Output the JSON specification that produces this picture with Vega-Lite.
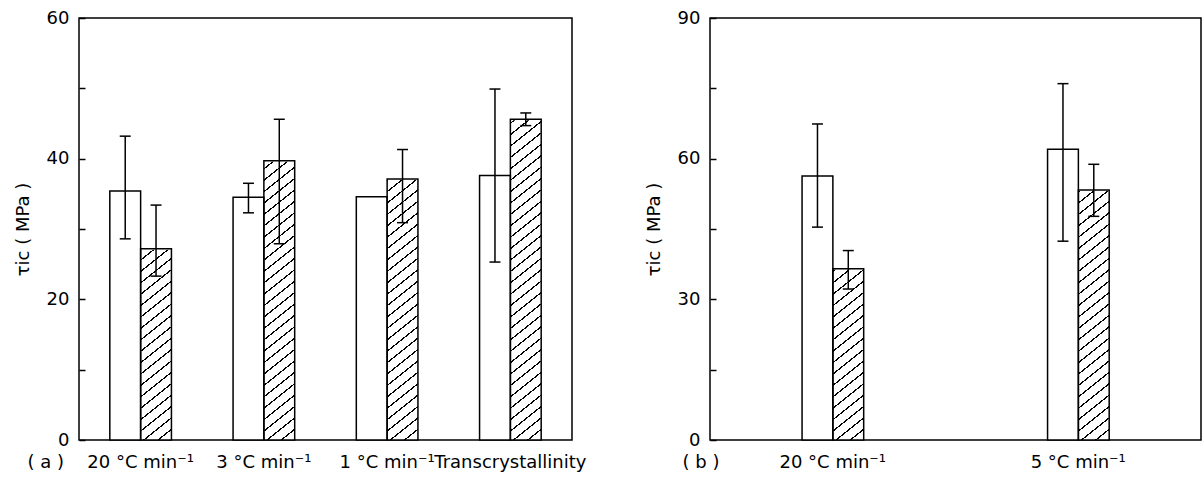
{
  "$schema": "https://vega.github.io/schema/vega-lite/v6.json",
  "background": "white",
  "padding": {"left": 13, "top": 8, "right": 0, "bottom": 0},
  "spacing": 57,
  "datasets": {
    "d": [
      {"panel": "a", "cond": "20 °C min⁻¹", "series": "1", "value": 35.4, "lo": 28.6, "hi": 43.2},
      {"panel": "a", "cond": "20 °C min⁻¹", "series": "2", "value": 27.2, "lo": 23.3, "hi": 33.4},
      {"panel": "a", "cond": "3 °C min⁻¹", "series": "1", "value": 34.5, "lo": 32.3, "hi": 36.5},
      {"panel": "a", "cond": "3 °C min⁻¹", "series": "2", "value": 39.7, "lo": 27.9, "hi": 45.6},
      {"panel": "a", "cond": "1 °C min⁻¹", "series": "1", "value": 34.6},
      {"panel": "a", "cond": "1 °C min⁻¹", "series": "2", "value": 37.1, "lo": 30.9, "hi": 41.3},
      {"panel": "a", "cond": "Transcrystallinity", "series": "1", "value": 37.6, "lo": 25.3, "hi": 49.9},
      {"panel": "a", "cond": "Transcrystallinity", "series": "2", "value": 45.6, "lo": 44.7, "hi": 46.5},
      {"panel": "b", "cond": "20 °C min⁻¹", "series": "1", "value": 56.3, "lo": 45.4, "hi": 67.4},
      {"panel": "b", "cond": "20 °C min⁻¹", "series": "2", "value": 36.5, "lo": 32.2, "hi": 40.4},
      {"panel": "b", "cond": "5 °C min⁻¹", "series": "1", "value": 62.0, "lo": 42.4, "hi": 76.0},
      {"panel": "b", "cond": "5 °C min⁻¹", "series": "2", "value": 53.3, "lo": 47.7, "hi": 58.8}
    ]
  },
  "hconcat": [
    {
      "width": 493,
      "height": 422,
      "data": {"name": "d"},
      "transform": [{"filter": "datum.panel === 'a'"}],
      "encoding": {
        "x": {
          "field": "cond", "type": "nominal",
          "scale": {"domain": ["20 °C min⁻¹", "3 °C min⁻¹", "1 °C min⁻¹", "Transcrystallinity"], "paddingInner": 0.5, "paddingOuter": 0.25},
          "axis": {"title": "( a )", "titleX": -52, "titleY": 13, "titleAlign": "left", "titleBaseline": "top"}
        },
        "xOffset": {"field": "series", "type": "nominal", "scale": {"domain": ["1", "2"]}}
      },
      "layer": [
        {
          "transform": [{"filter": "datum.series === '2'"}],
          "mark": {"type": "bar", "strokeWidth": 0, "fill": {"gradient": "linear", "x1": 0, "y1": 0, "x2": 0.0746, "y2": 1.0647, "stops": [
            {"offset": 0, "color": "#000"}, {"offset": 0.004, "color": "#000"}, {"offset": 0.004, "color": "#fff"}, {"offset": 0.030303, "color": "#fff"},
            {"offset": 0.030303, "color": "#000"}, {"offset": 0.034303, "color": "#000"}, {"offset": 0.034303, "color": "#fff"}, {"offset": 0.060606, "color": "#fff"},
            {"offset": 0.060606, "color": "#000"}, {"offset": 0.064606, "color": "#000"}, {"offset": 0.064606, "color": "#fff"}, {"offset": 0.090909, "color": "#fff"},
            {"offset": 0.090909, "color": "#000"}, {"offset": 0.094909, "color": "#000"}, {"offset": 0.094909, "color": "#fff"}, {"offset": 0.121212, "color": "#fff"},
            {"offset": 0.121212, "color": "#000"}, {"offset": 0.125212, "color": "#000"}, {"offset": 0.125212, "color": "#fff"}, {"offset": 0.151515, "color": "#fff"},
            {"offset": 0.151515, "color": "#000"}, {"offset": 0.155515, "color": "#000"}, {"offset": 0.155515, "color": "#fff"}, {"offset": 0.181818, "color": "#fff"},
            {"offset": 0.181818, "color": "#000"}, {"offset": 0.185818, "color": "#000"}, {"offset": 0.185818, "color": "#fff"}, {"offset": 0.212121, "color": "#fff"},
            {"offset": 0.212121, "color": "#000"}, {"offset": 0.216121, "color": "#000"}, {"offset": 0.216121, "color": "#fff"}, {"offset": 0.242424, "color": "#fff"},
            {"offset": 0.242424, "color": "#000"}, {"offset": 0.246424, "color": "#000"}, {"offset": 0.246424, "color": "#fff"}, {"offset": 0.272727, "color": "#fff"},
            {"offset": 0.272727, "color": "#000"}, {"offset": 0.276727, "color": "#000"}, {"offset": 0.276727, "color": "#fff"}, {"offset": 0.30303, "color": "#fff"},
            {"offset": 0.30303, "color": "#000"}, {"offset": 0.30703, "color": "#000"}, {"offset": 0.30703, "color": "#fff"}, {"offset": 0.333333, "color": "#fff"},
            {"offset": 0.333333, "color": "#000"}, {"offset": 0.337333, "color": "#000"}, {"offset": 0.337333, "color": "#fff"}, {"offset": 0.363636, "color": "#fff"},
            {"offset": 0.363636, "color": "#000"}, {"offset": 0.367636, "color": "#000"}, {"offset": 0.367636, "color": "#fff"}, {"offset": 0.393939, "color": "#fff"},
            {"offset": 0.393939, "color": "#000"}, {"offset": 0.397939, "color": "#000"}, {"offset": 0.397939, "color": "#fff"}, {"offset": 0.424242, "color": "#fff"},
            {"offset": 0.424242, "color": "#000"}, {"offset": 0.428242, "color": "#000"}, {"offset": 0.428242, "color": "#fff"}, {"offset": 0.454545, "color": "#fff"},
            {"offset": 0.454545, "color": "#000"}, {"offset": 0.458545, "color": "#000"}, {"offset": 0.458545, "color": "#fff"}, {"offset": 0.484848, "color": "#fff"},
            {"offset": 0.484848, "color": "#000"}, {"offset": 0.488848, "color": "#000"}, {"offset": 0.488848, "color": "#fff"}, {"offset": 0.515152, "color": "#fff"},
            {"offset": 0.515152, "color": "#000"}, {"offset": 0.519152, "color": "#000"}, {"offset": 0.519152, "color": "#fff"}, {"offset": 0.545455, "color": "#fff"},
            {"offset": 0.545455, "color": "#000"}, {"offset": 0.549455, "color": "#000"}, {"offset": 0.549455, "color": "#fff"}, {"offset": 0.575758, "color": "#fff"},
            {"offset": 0.575758, "color": "#000"}, {"offset": 0.579758, "color": "#000"}, {"offset": 0.579758, "color": "#fff"}, {"offset": 0.606061, "color": "#fff"},
            {"offset": 0.606061, "color": "#000"}, {"offset": 0.610061, "color": "#000"}, {"offset": 0.610061, "color": "#fff"}, {"offset": 0.636364, "color": "#fff"},
            {"offset": 0.636364, "color": "#000"}, {"offset": 0.640364, "color": "#000"}, {"offset": 0.640364, "color": "#fff"}, {"offset": 0.666667, "color": "#fff"},
            {"offset": 0.666667, "color": "#000"}, {"offset": 0.670667, "color": "#000"}, {"offset": 0.670667, "color": "#fff"}, {"offset": 0.69697, "color": "#fff"},
            {"offset": 0.69697, "color": "#000"}, {"offset": 0.70097, "color": "#000"}, {"offset": 0.70097, "color": "#fff"}, {"offset": 0.727273, "color": "#fff"},
            {"offset": 0.727273, "color": "#000"}, {"offset": 0.731273, "color": "#000"}, {"offset": 0.731273, "color": "#fff"}, {"offset": 0.757576, "color": "#fff"},
            {"offset": 0.757576, "color": "#000"}, {"offset": 0.761576, "color": "#000"}, {"offset": 0.761576, "color": "#fff"}, {"offset": 0.787879, "color": "#fff"},
            {"offset": 0.787879, "color": "#000"}, {"offset": 0.791879, "color": "#000"}, {"offset": 0.791879, "color": "#fff"}, {"offset": 0.818182, "color": "#fff"},
            {"offset": 0.818182, "color": "#000"}, {"offset": 0.822182, "color": "#000"}, {"offset": 0.822182, "color": "#fff"}, {"offset": 0.848485, "color": "#fff"},
            {"offset": 0.848485, "color": "#000"}, {"offset": 0.852485, "color": "#000"}, {"offset": 0.852485, "color": "#fff"}, {"offset": 0.878788, "color": "#fff"},
            {"offset": 0.878788, "color": "#000"}, {"offset": 0.882788, "color": "#000"}, {"offset": 0.882788, "color": "#fff"}, {"offset": 0.909091, "color": "#fff"},
            {"offset": 0.909091, "color": "#000"}, {"offset": 0.913091, "color": "#000"}, {"offset": 0.913091, "color": "#fff"}, {"offset": 0.939394, "color": "#fff"},
            {"offset": 0.939394, "color": "#000"}, {"offset": 0.943394, "color": "#000"}, {"offset": 0.943394, "color": "#fff"}, {"offset": 0.969697, "color": "#fff"},
            {"offset": 0.969697, "color": "#000"}, {"offset": 0.973697, "color": "#000"}, {"offset": 0.973697, "color": "#fff"}, {"offset": 1, "color": "#fff"}
          ]}},
          "encoding": {
            "y": {"datum": 50, "type": "quantitative", "scale": {"domain": [0, 60], "nice": false}},
            "y2": {"datum": 0}
          }
        },
        {
          "transform": [{"filter": "datum.series === '2'"}],
          "mark": {"type": "bar", "fill": "white", "stroke": "white", "strokeWidth": 2},
          "encoding": {
            "y": {"field": "value", "type": "quantitative", "scale": {"domain": [0, 60], "nice": false}},
            "y2": {"datum": 50}
          }
        },
        {
          "mark": {"type": "bar", "stroke": "black", "strokeWidth": 1.5},
          "encoding": {
            "y": {
              "field": "value", "type": "quantitative",
              "scale": {"domain": [0, 60], "nice": false},
              "axis": {"values": [0, 10, 20, 30, 40, 50, 60], "labelExpr": "datum.value % 20 === 0 ? datum.label : ''", "title": "τic ( MPa )"}
            },
            "fill": {"field": "series", "type": "nominal", "scale": {"domain": ["1", "2"], "range": ["white", "transparent"]}, "legend": null}
          }
        },
        {
          "mark": {"type": "rule", "color": "black", "strokeWidth": 1.5},
          "encoding": {
            "y": {"field": "lo", "type": "quantitative", "scale": {"domain": [0, 60], "nice": false}},
            "y2": {"field": "hi"}
          }
        },
        {
          "mark": {"type": "tick", "color": "black", "thickness": 1.5, "size": 11, "opacity": 1},
          "encoding": {
            "y": {"field": "lo", "type": "quantitative", "scale": {"domain": [0, 60], "nice": false}}
          }
        },
        {
          "mark": {"type": "tick", "color": "black", "thickness": 1.5, "size": 11, "opacity": 1},
          "encoding": {
            "y": {"field": "hi", "type": "quantitative", "scale": {"domain": [0, 60], "nice": false}}
          }
        }
      ]
    },
    {
      "width": 491,
      "height": 422,
      "data": {"name": "d"},
      "transform": [{"filter": "datum.panel === 'b'"}],
      "encoding": {
        "x": {
          "field": "cond", "type": "nominal",
          "scale": {"domain": ["20 °C min⁻¹", "5 °C min⁻¹"], "paddingInner": 0.75, "paddingOuter": 0.375},
          "axis": {"title": "( b )", "titleX": -28, "titleY": 13, "titleAlign": "left", "titleBaseline": "top"}
        },
        "xOffset": {"field": "series", "type": "nominal", "scale": {"domain": ["1", "2"]}}
      },
      "layer": [
        {
          "transform": [{"filter": "datum.series === '2'"}],
          "mark": {"type": "bar", "strokeWidth": 0, "fill": {"gradient": "linear", "x1": 0, "y1": 0, "x2": 0.0746, "y2": 1.0647, "stops": [
            {"offset": 0, "color": "#000"}, {"offset": 0.004, "color": "#000"}, {"offset": 0.004, "color": "#fff"}, {"offset": 0.030303, "color": "#fff"},
            {"offset": 0.030303, "color": "#000"}, {"offset": 0.034303, "color": "#000"}, {"offset": 0.034303, "color": "#fff"}, {"offset": 0.060606, "color": "#fff"},
            {"offset": 0.060606, "color": "#000"}, {"offset": 0.064606, "color": "#000"}, {"offset": 0.064606, "color": "#fff"}, {"offset": 0.090909, "color": "#fff"},
            {"offset": 0.090909, "color": "#000"}, {"offset": 0.094909, "color": "#000"}, {"offset": 0.094909, "color": "#fff"}, {"offset": 0.121212, "color": "#fff"},
            {"offset": 0.121212, "color": "#000"}, {"offset": 0.125212, "color": "#000"}, {"offset": 0.125212, "color": "#fff"}, {"offset": 0.151515, "color": "#fff"},
            {"offset": 0.151515, "color": "#000"}, {"offset": 0.155515, "color": "#000"}, {"offset": 0.155515, "color": "#fff"}, {"offset": 0.181818, "color": "#fff"},
            {"offset": 0.181818, "color": "#000"}, {"offset": 0.185818, "color": "#000"}, {"offset": 0.185818, "color": "#fff"}, {"offset": 0.212121, "color": "#fff"},
            {"offset": 0.212121, "color": "#000"}, {"offset": 0.216121, "color": "#000"}, {"offset": 0.216121, "color": "#fff"}, {"offset": 0.242424, "color": "#fff"},
            {"offset": 0.242424, "color": "#000"}, {"offset": 0.246424, "color": "#000"}, {"offset": 0.246424, "color": "#fff"}, {"offset": 0.272727, "color": "#fff"},
            {"offset": 0.272727, "color": "#000"}, {"offset": 0.276727, "color": "#000"}, {"offset": 0.276727, "color": "#fff"}, {"offset": 0.30303, "color": "#fff"},
            {"offset": 0.30303, "color": "#000"}, {"offset": 0.30703, "color": "#000"}, {"offset": 0.30703, "color": "#fff"}, {"offset": 0.333333, "color": "#fff"},
            {"offset": 0.333333, "color": "#000"}, {"offset": 0.337333, "color": "#000"}, {"offset": 0.337333, "color": "#fff"}, {"offset": 0.363636, "color": "#fff"},
            {"offset": 0.363636, "color": "#000"}, {"offset": 0.367636, "color": "#000"}, {"offset": 0.367636, "color": "#fff"}, {"offset": 0.393939, "color": "#fff"},
            {"offset": 0.393939, "color": "#000"}, {"offset": 0.397939, "color": "#000"}, {"offset": 0.397939, "color": "#fff"}, {"offset": 0.424242, "color": "#fff"},
            {"offset": 0.424242, "color": "#000"}, {"offset": 0.428242, "color": "#000"}, {"offset": 0.428242, "color": "#fff"}, {"offset": 0.454545, "color": "#fff"},
            {"offset": 0.454545, "color": "#000"}, {"offset": 0.458545, "color": "#000"}, {"offset": 0.458545, "color": "#fff"}, {"offset": 0.484848, "color": "#fff"},
            {"offset": 0.484848, "color": "#000"}, {"offset": 0.488848, "color": "#000"}, {"offset": 0.488848, "color": "#fff"}, {"offset": 0.515152, "color": "#fff"},
            {"offset": 0.515152, "color": "#000"}, {"offset": 0.519152, "color": "#000"}, {"offset": 0.519152, "color": "#fff"}, {"offset": 0.545455, "color": "#fff"},
            {"offset": 0.545455, "color": "#000"}, {"offset": 0.549455, "color": "#000"}, {"offset": 0.549455, "color": "#fff"}, {"offset": 0.575758, "color": "#fff"},
            {"offset": 0.575758, "color": "#000"}, {"offset": 0.579758, "color": "#000"}, {"offset": 0.579758, "color": "#fff"}, {"offset": 0.606061, "color": "#fff"},
            {"offset": 0.606061, "color": "#000"}, {"offset": 0.610061, "color": "#000"}, {"offset": 0.610061, "color": "#fff"}, {"offset": 0.636364, "color": "#fff"},
            {"offset": 0.636364, "color": "#000"}, {"offset": 0.640364, "color": "#000"}, {"offset": 0.640364, "color": "#fff"}, {"offset": 0.666667, "color": "#fff"},
            {"offset": 0.666667, "color": "#000"}, {"offset": 0.670667, "color": "#000"}, {"offset": 0.670667, "color": "#fff"}, {"offset": 0.69697, "color": "#fff"},
            {"offset": 0.69697, "color": "#000"}, {"offset": 0.70097, "color": "#000"}, {"offset": 0.70097, "color": "#fff"}, {"offset": 0.727273, "color": "#fff"},
            {"offset": 0.727273, "color": "#000"}, {"offset": 0.731273, "color": "#000"}, {"offset": 0.731273, "color": "#fff"}, {"offset": 0.757576, "color": "#fff"},
            {"offset": 0.757576, "color": "#000"}, {"offset": 0.761576, "color": "#000"}, {"offset": 0.761576, "color": "#fff"}, {"offset": 0.787879, "color": "#fff"},
            {"offset": 0.787879, "color": "#000"}, {"offset": 0.791879, "color": "#000"}, {"offset": 0.791879, "color": "#fff"}, {"offset": 0.818182, "color": "#fff"},
            {"offset": 0.818182, "color": "#000"}, {"offset": 0.822182, "color": "#000"}, {"offset": 0.822182, "color": "#fff"}, {"offset": 0.848485, "color": "#fff"},
            {"offset": 0.848485, "color": "#000"}, {"offset": 0.852485, "color": "#000"}, {"offset": 0.852485, "color": "#fff"}, {"offset": 0.878788, "color": "#fff"},
            {"offset": 0.878788, "color": "#000"}, {"offset": 0.882788, "color": "#000"}, {"offset": 0.882788, "color": "#fff"}, {"offset": 0.909091, "color": "#fff"},
            {"offset": 0.909091, "color": "#000"}, {"offset": 0.913091, "color": "#000"}, {"offset": 0.913091, "color": "#fff"}, {"offset": 0.939394, "color": "#fff"},
            {"offset": 0.939394, "color": "#000"}, {"offset": 0.943394, "color": "#000"}, {"offset": 0.943394, "color": "#fff"}, {"offset": 0.969697, "color": "#fff"},
            {"offset": 0.969697, "color": "#000"}, {"offset": 0.973697, "color": "#000"}, {"offset": 0.973697, "color": "#fff"}, {"offset": 1, "color": "#fff"}
          ]}},
          "encoding": {
            "y": {"datum": 75, "type": "quantitative", "scale": {"domain": [0, 90], "nice": false}},
            "y2": {"datum": 0}
          }
        },
        {
          "transform": [{"filter": "datum.series === '2'"}],
          "mark": {"type": "bar", "fill": "white", "stroke": "white", "strokeWidth": 2},
          "encoding": {
            "y": {"field": "value", "type": "quantitative", "scale": {"domain": [0, 90], "nice": false}},
            "y2": {"datum": 75}
          }
        },
        {
          "mark": {"type": "bar", "stroke": "black", "strokeWidth": 1.5},
          "encoding": {
            "y": {
              "field": "value", "type": "quantitative",
              "scale": {"domain": [0, 90], "nice": false},
              "axis": {"values": [0, 15, 30, 45, 60, 75, 90], "labelExpr": "datum.value % 30 === 0 ? datum.label : ''", "title": "τic ( MPa )"}
            },
            "fill": {"field": "series", "type": "nominal", "scale": {"domain": ["1", "2"], "range": ["white", "transparent"]}, "legend": null}
          }
        },
        {
          "mark": {"type": "rule", "color": "black", "strokeWidth": 1.5},
          "encoding": {
            "y": {"field": "lo", "type": "quantitative", "scale": {"domain": [0, 90], "nice": false}},
            "y2": {"field": "hi"}
          }
        },
        {
          "mark": {"type": "tick", "color": "black", "thickness": 1.5, "size": 11, "opacity": 1},
          "encoding": {
            "y": {"field": "lo", "type": "quantitative", "scale": {"domain": [0, 90], "nice": false}}
          }
        },
        {
          "mark": {"type": "tick", "color": "black", "thickness": 1.5, "size": 11, "opacity": 1},
          "encoding": {
            "y": {"field": "hi", "type": "quantitative", "scale": {"domain": [0, 90], "nice": false}}
          }
        }
      ]
    }
  ],
  "config": {
    "view": {"stroke": "black", "strokeWidth": 1.5},
    "axis": {
      "labelFont": "DejaVu Sans", "labelFontSize": 18, "labelColor": "black",
      "titleFont": "DejaVu Sans", "titleFontSize": 18, "titleFontWeight": "normal", "titleColor": "black",
      "domain": false, "grid": false, "tickColor": "black", "tickWidth": 1.5
    },
    "axisY": {"tickSize": -6, "labelPadding": 16, "titlePadding": 14},
    "axisX": {"ticks": false, "labelPadding": 13, "labelAngle": 0}
  }
}
